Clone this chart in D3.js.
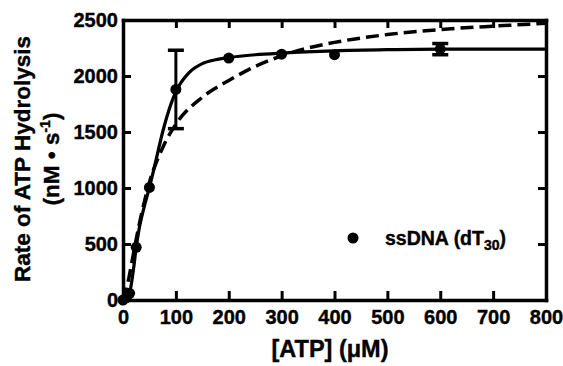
<!DOCTYPE html>
<html><head><meta charset="utf-8">
<script src="https://cdn.jsdelivr.net/npm/d3@7"></script>
<style>
body{margin:0;background:#fff;}
text{font-family:"Liberation Sans",Arial,sans-serif;font-weight:bold;fill:#000;stroke:#000;stroke-width:0.4px;}
</style></head>
<body><svg id="c" width="563" height="366"></svg>
<script>
// data
const atp = [0, 6, 12.5, 25, 50, 100, 200, 300, 400, 600];
const rate = [0, 20, 60, 470, 1005, 1880, 2160, 2195, 2190, 2240];
const rateErr = [0, 0, 0, 0, 0, 350, 0, 0, 0, 50];
const solidX = [0, 5, 10, 15, 20, 25, 30, 40, 50, 60, 75, 90, 100, 125, 150, 175, 200, 250, 300, 400, 500, 600, 700, 800];
const solidY = [0, 5, 30, 120, 280, 470, 620, 830, 1005, 1200, 1500, 1740, 1860, 2030, 2110, 2145, 2165, 2190, 2205, 2225, 2235, 2240, 2240, 2240];
const dashX = [0, 5, 10, 20, 30, 40, 50, 75, 100, 150, 200, 250, 300, 350, 400, 500, 600, 700, 800];
const dashY = [0, 60, 170, 420, 660, 870, 1050, 1360, 1570, 1810, 1960, 2085, 2180, 2250, 2300, 2370, 2415, 2445, 2470];
const xTicks = [0, 100, 200, 300, 400, 500, 600, 700, 800];
const yTicks = [0, 500, 1000, 1500, 2000, 2500];

const svg = d3.select("#c");
const L = 123, R = 546, T = 20, B = 300;
const x = d3.scaleLinear().domain([0, 800]).range([L, R]);
const y = d3.scaleLinear().domain([0, 2500]).range([B, T]);

function styleAxis(g){
  g.selectAll(".domain").attr("stroke","#000").attr("stroke-width",3.5).attr("stroke-linecap","square");
  g.selectAll(".tick line").attr("stroke","#000").attr("stroke-width",3);
  g.selectAll(".tick text").style("font-size","20px").style("font-family","'Liberation Sans',Arial,sans-serif").style("font-weight","bold");
}
svg.append("g").attr("transform",`translate(0,${T})`)
  .call(d3.axisTop(x).tickValues(xTicks).tickSize(-8).tickSizeOuter(0).tickFormat(""))
  .call(styleAxis);
svg.append("g").attr("transform",`translate(${R},0)`)
  .call(d3.axisRight(y).tickValues(yTicks).tickSize(-8).tickSizeOuter(0).tickFormat(""))
  .call(styleAxis);
svg.append("g").attr("transform",`translate(0,${B})`)
  .call(d3.axisBottom(x).tickValues(xTicks).tickSize(-9).tickSizeOuter(0).tickPadding(10).tickFormat(d3.format("d")))
  .call(styleAxis);
svg.append("g").attr("transform",`translate(${L},0)`)
  .call(d3.axisLeft(y).tickValues(yTicks).tickSize(-8).tickSizeOuter(0).tickPadding(5).tickFormat(d3.format("d")))
  .call(styleAxis);

// curves
const line = d3.line().x(d=>x(d[0])).y(d=>y(d[1])).curve(d3.curveMonotoneX);
svg.append("path").datum(dashX.map((v,i)=>[v,dashY[i]]))
  .attr("d",line).attr("fill","none").attr("stroke","#000").attr("stroke-width",3.5)
  .attr("stroke-dasharray","13,6");
svg.append("path").datum(solidX.map((v,i)=>[v,solidY[i]]))
  .attr("d",line).attr("fill","none").attr("stroke","#000").attr("stroke-width",3.2);

// error bars
const eb = svg.append("g");
atp.forEach((v,i)=>{
  if(!rateErr[i]) return;
  const cx = x(v), y1 = y(rate[i]-rateErr[i]), y2 = y(rate[i]+rateErr[i]);
  eb.append("line").attr("x1",cx).attr("x2",cx).attr("y1",y1).attr("y2",y2).attr("stroke","#000").attr("stroke-width",3);
  [y1,y2].forEach(yy=>eb.append("line").attr("x1",cx-8).attr("x2",cx+8).attr("y1",yy).attr("y2",yy).attr("stroke","#000").attr("stroke-width",3.5));
});
// points
svg.append("g").selectAll("circle").data(atp).join("circle")
  .attr("cx",d=>x(d)).attr("cy",(d,i)=>y(rate[i])).attr("r",5.5).attr("fill","#000");

// legend
svg.append("circle").attr("cx",353).attr("cy",238).attr("r",5.5).attr("fill","#000");
const lt = svg.append("text").attr("x",385).attr("y",245).style("font-size","19.5px");
lt.append("tspan").text("ssDNA (dT");
lt.append("tspan").attr("dy",5).style("font-size","14px").text("30");
lt.append("tspan").attr("dy",-5).text(")");

// axis titles
svg.append("text").attr("x",330).attr("y",357).attr("text-anchor","middle").style("font-size","23.5px")
  .text("[ATP] (μM)");
const yl = svg.append("text").attr("transform","translate(30,159) rotate(-90)").attr("text-anchor","middle").style("font-size","22.5px");
yl.append("tspan").attr("x",0).attr("y",0).text("Rate of ATP Hydrolysis");
const l2 = yl.append("tspan").attr("x",0).attr("y",29);
l2.text("(nM • s");
yl.append("tspan").attr("dy",-9).style("font-size","14px").text("-1");
yl.append("tspan").attr("dy",9).text(")");
</script></body></html>
